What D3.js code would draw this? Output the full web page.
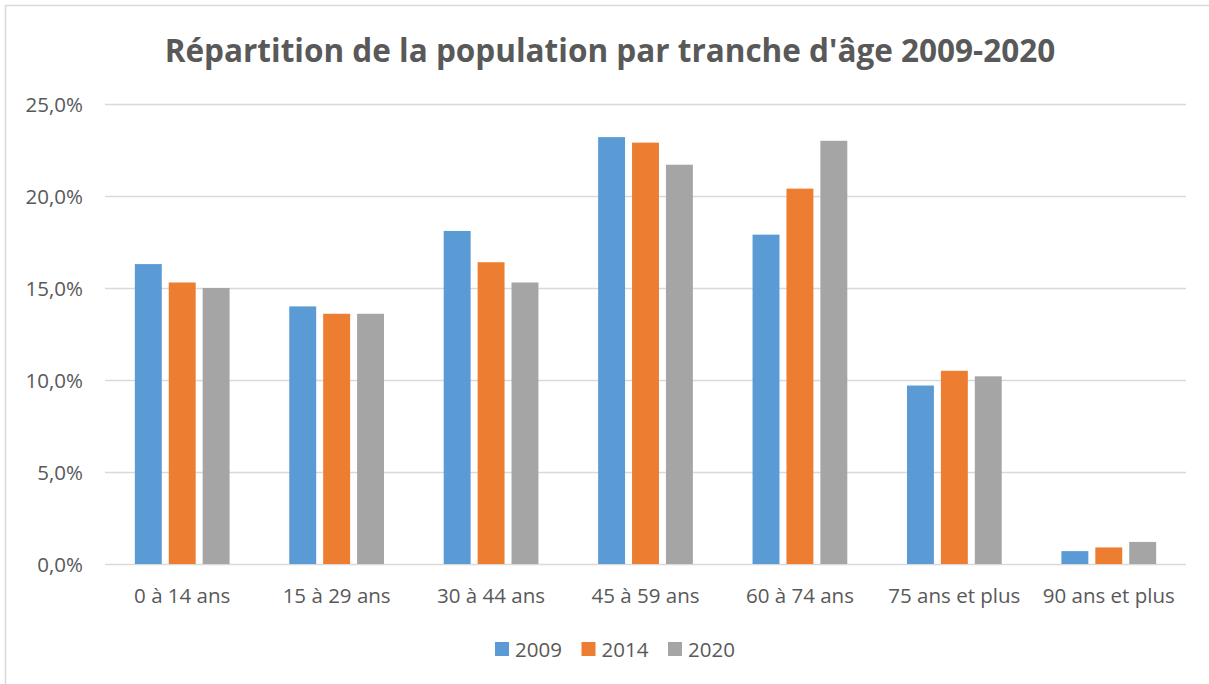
<!DOCTYPE html>
<html>
<head>
<meta charset="utf-8">
<script src="https://cdn.jsdelivr.net/npm/d3@7"></script>
<style>
  body { margin: 0; background: #fff; }
  text { font-family: "Open Sans", sans-serif; fill: #595959; }
</style>
</head>
<body>
<div id="chart"></div>
<script>
// data
const categories = ["0 à 14 ans", "15 à 29 ans", "30 à 44 ans", "45 à 59 ans", "60 à 74 ans", "75 ans et plus", "90 ans et plus"];
const seriesNames = ["2009", "2014", "2020"];
const values2009 = [16.3, 14.0, 18.1, 23.2, 17.9, 9.7, 0.7];
const values2014 = [15.3, 13.6, 16.4, 22.9, 20.4, 10.5, 0.9];
const values2020 = [15.0, 13.6, 15.3, 21.7, 23.0, 10.2, 1.2];
const yTicks = [0, 5, 10, 15, 20, 25];
const colors = ["#5B9BD5", "#ED7D31", "#A5A5A5"];

const seriesValues = [values2009, values2014, values2020];
const rows = categories.map((c, i) => ({
    cat: c,
    vals: seriesNames.map((s, j) => ({ key: s, value: seriesValues[j][i] }))
}));

const width = 1209, height = 684;
const margin = { top: 104, right: 23, bottom: 120, left: 105 };
const innerW = width - margin.left - margin.right;
const innerH = height - margin.top - margin.bottom;

const svg = d3.select("#chart").append("svg")
    .attr("width", width)
    .attr("height", height);

// chart frame
svg.append("rect")
    .attr("x", 5.5).attr("y", 5.5)
    .attr("width", width + 20).attr("height", height + 20)
    .attr("fill", "none")
    .attr("stroke", "#d9d9d9")
    .attr("stroke-width", 1.5);

// title
svg.append("text")
    .attr("x", 610)
    .attr("y", 62)
    .attr("text-anchor", "middle")
    .style("font-size", "31.5px")
    .style("font-weight", 700)
    .text("Répartition de la population par tranche d'âge 2009-2020");

const g = svg.append("g").attr("transform", `translate(${margin.left},${margin.top})`);

const x0 = d3.scaleBand().domain(categories).range([0, innerW]).padding(0);
const x1 = d3.scaleBand().domain(seriesNames).range([0, x0.bandwidth()])
    .paddingInner(0.206).paddingOuter(0.88);
const y = d3.scaleLinear().domain([0, 25]).range([innerH, 0]);

const fr = d3.formatLocale({ decimal: ",", thousands: " ", grouping: [3], currency: ["", " €"] });
const fmt = d => fr.format(".1f")(d) + "%";

// y axis + gridlines
const yAxis = g.append("g")
    .call(d3.axisLeft(y).tickValues(yTicks).tickSize(-innerW).tickPadding(22).tickFormat(fmt));
yAxis.select(".domain").remove();
yAxis.selectAll(".tick line").attr("stroke", "#d9d9d9").attr("stroke-width", 1.5);
yAxis.selectAll(".tick text")
    .attr("dy", "0.37em")
    .style("font-size", "20.5px")
    .style("font-family", "'Open Sans', sans-serif")
    .attr("fill", "#595959");

// bars
const groups = g.selectAll(".cat")
    .data(rows)
    .enter().append("g")
    .attr("class", "cat")
    .attr("transform", d => `translate(${x0(d.cat)},0)`);

groups.selectAll("rect")
    .data(d => d.vals)
    .enter().append("rect")
    .attr("x", d => x1(d.key))
    .attr("y", d => y(d.value))
    .attr("width", x1.bandwidth())
    .attr("height", d => innerH - y(d.value))
    .attr("fill", (d, i) => colors[i]);

// x axis labels
const xAxis = g.append("g")
    .attr("transform", `translate(0,${innerH})`)
    .call(d3.axisBottom(x0).tickSize(0).tickPadding(24.5));
xAxis.select(".domain").remove();
xAxis.selectAll(".tick text")
    .style("font-size", "20.5px")
    .style("font-family", "'Open Sans', sans-serif")
    .attr("fill", "#595959");

// legend
const legendX = d3.scalePoint().domain(seriesNames).range([495, 668]);
const legend = svg.selectAll(".legend")
    .data(seriesNames)
    .enter().append("g")
    .attr("class", "legend")
    .attr("transform", d => `translate(${legendX(d)},642)`);

legend.append("rect")
    .attr("width", 14).attr("height", 14)
    .attr("fill", (d, i) => colors[i]);

legend.append("text")
    .attr("x", 20)
    .attr("y", 14.5)
    .style("font-size", "20.5px")
    .text(d => d);
</script>
</body>
</html>
